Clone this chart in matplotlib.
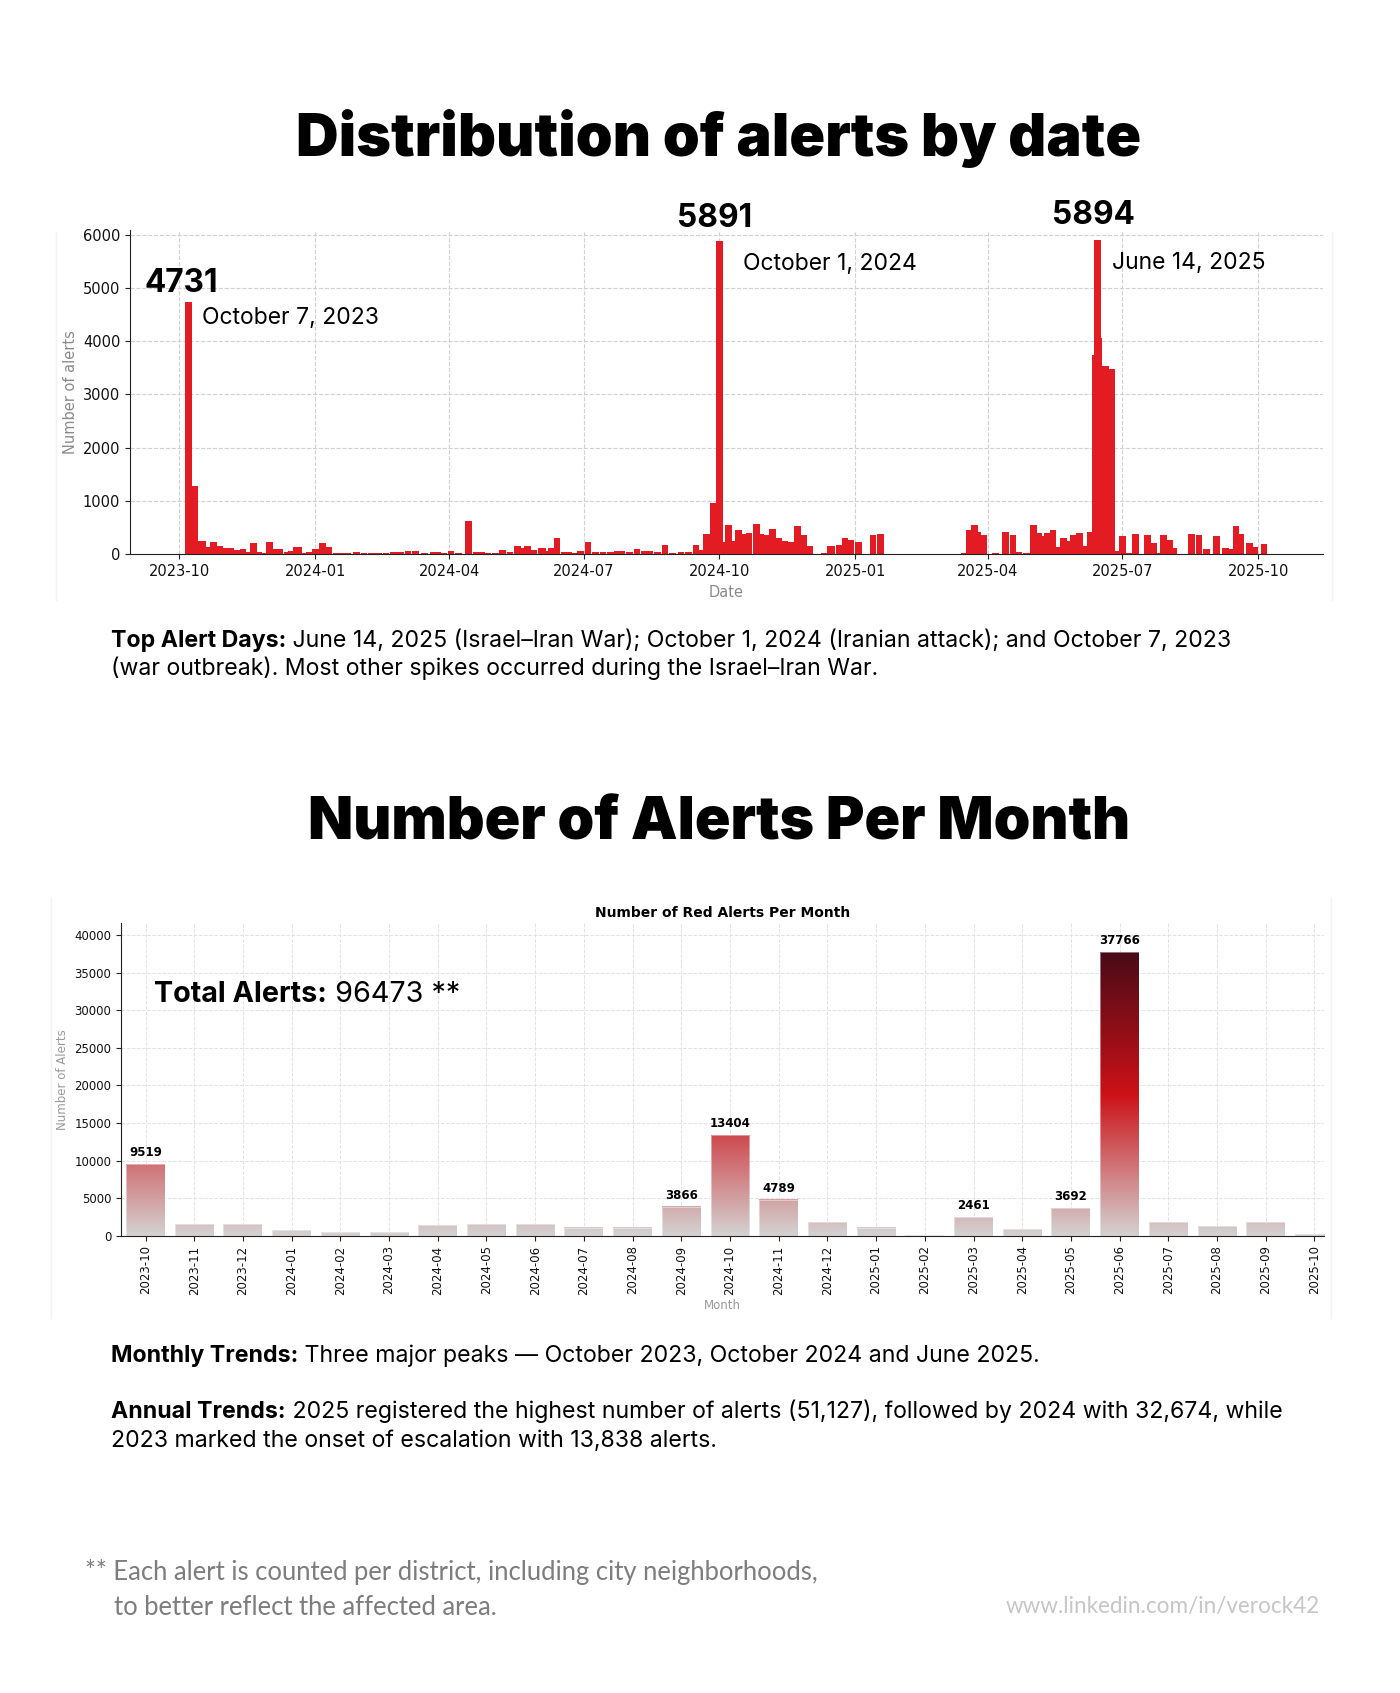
import numpy as np
import pandas as pd
import matplotlib
matplotlib.use("Agg")
import matplotlib.pyplot as plt
import matplotlib.dates as mdates
from matplotlib.colors import LinearSegmentedColormap, Normalize
from matplotlib.text import Annotation
from matplotlib.patches import Rectangle
from matplotlib.lines import Line2D

# ---------------- data: daily alerts ----------------
daily_dates = [
    '2023-10-07', '2023-10-11', '2023-10-16', '2023-10-17', '2023-10-20', '2023-10-24', '2023-10-28',
    '2023-11-01', '2023-11-05', '2023-11-09', '2023-11-13', '2023-11-16', '2023-11-20', '2023-11-24', '2023-11-27',
    '2023-12-01', '2023-12-06', '2023-12-08', '2023-12-13', '2023-12-16', '2023-12-19', '2023-12-21', '2023-12-25', '2023-12-28',
    '2024-01-01', '2024-01-06', '2024-01-10', '2024-01-15', '2024-01-19', '2024-01-23', '2024-01-29',
    '2024-02-03', '2024-02-08', '2024-02-13', '2024-02-18', '2024-02-23', '2024-02-28',
    '2024-03-04', '2024-03-09', '2024-03-15', '2024-03-21', '2024-03-24', '2024-03-28',
    '2024-04-02', '2024-04-07', '2024-04-14', '2024-04-19', '2024-04-23', '2024-04-27',
    '2024-05-02', '2024-05-07', '2024-05-12', '2024-05-17', '2024-05-20', '2024-05-24', '2024-05-28',
    '2024-06-02', '2024-06-03', '2024-06-07', '2024-06-09', '2024-06-13', '2024-06-18', '2024-06-21', '2024-06-24', '2024-06-29',
    '2024-07-04', '2024-07-09', '2024-07-14', '2024-07-19', '2024-07-24', '2024-07-27',
    '2024-08-01', '2024-08-06', '2024-08-11', '2024-08-15', '2024-08-20', '2024-08-25', '2024-08-30',
    '2024-09-05', '2024-09-10', '2024-09-15', '2024-09-18', '2024-09-22', '2024-09-23', '2024-09-27',
    '2024-10-01', '2024-10-04', '2024-10-07', '2024-10-11', '2024-10-14', '2024-10-18', '2024-10-21', '2024-10-26', '2024-10-29',
    '2024-11-02', '2024-11-06', '2024-11-10', '2024-11-14', '2024-11-18', '2024-11-23', '2024-11-27',
    '2024-12-01', '2024-12-11', '2024-12-15', '2024-12-16', '2024-12-21', '2024-12-25', '2024-12-29',
    '2025-01-03', '2025-01-13', '2025-01-18',
    '2025-03-16', '2025-03-19', '2025-03-23', '2025-03-25', '2025-03-29',
    '2025-04-06', '2025-04-13', '2025-04-18', '2025-04-22', '2025-04-27',
    '2025-05-02', '2025-05-05', '2025-05-08', '2025-05-11', '2025-05-15', '2025-05-18', '2025-05-22', '2025-05-25', '2025-05-29',
    '2025-06-02', '2025-06-06', '2025-06-09', '2025-06-13', '2025-06-14', '2025-06-15', '2025-06-16', '2025-06-20', '2025-06-24', '2025-06-28',
    '2025-07-01', '2025-07-06', '2025-07-10', '2025-07-18', '2025-07-22', '2025-07-25', '2025-07-29',
    '2025-08-02', '2025-08-05', '2025-08-17', '2025-08-22', '2025-08-27',
    '2025-09-03', '2025-09-09', '2025-09-12', '2025-09-16', '2025-09-19', '2025-09-25', '2025-09-29',
    '2025-10-05',
]
daily_counts = [
    4731, 1270, 237, 237, 125, 225, 156,
    106, 119, 75, 87, 44, 200, 44, 12,
    219, 87, 87, 31, 62, 131, 131, 12, 44,
    94, 200, 125, 15, 15, 15, 37,
    19, 19, 19, 19, 31, 31,
    50, 50, 19, 37, 37, 19,
    50, 25, 625, 44, 44, 12,
    12, 75, 37, 144, 112, 156, 75,
    112, 112, 62, 112, 294, 31, 31, 25, 56,
    225, 44, 44, 44, 50, 50,
    31, 87, 50, 50, 44, 162, 12,
    37, 37, 175, 75, 381, 381, 962,
    5891, 225, 537, 237, 444, 370, 394, 556, 369,
    350, 475, 300, 237, 225, 531, 356,
    144, 12, 156, 156, 175, 300, 262,
    225, 356, 381,
    10, 456, 537, 419, 362,
    19, 419, 362, 44, 25,
    537, 387, 344, 400, 456, 131, 306, 244, 362,
    394, 150, 406, 3737, 5894, 4069, 3531, 3531, 3487, 62,
    344, 25, 381, 362, 212, 12, 350,
    262, 106, 369, 350, 94,
    337, 106, 94, 519, 381, 200, 137,
    194,
]
peak_dates = ['2023-10-07', '2024-10-01', '2025-06-14']
peak_names = ['October 7, 2023', 'October 1, 2024', 'June 14, 2025']

# ---------------- data: monthly alerts ----------------
months = ['2023-10', '2023-11', '2023-12', '2024-01', '2024-02', '2024-03', '2024-04',
          '2024-05', '2024-06', '2024-07', '2024-08', '2024-09', '2024-10', '2024-11',
          '2024-12', '2025-01', '2025-02', '2025-03', '2025-04', '2025-05', '2025-06',
          '2025-07', '2025-08', '2025-09', '2025-10']
monthly_counts = [9519, 1530, 1530, 780, 500, 500, 1450,
                  1530, 1530, 1080, 1080, 3866, 13404, 4789,
                  1840, 1080, 90, 2461, 900, 3692, 37766,
                  1840, 1300, 1840, 220]
total_alerts = 96473
label_threshold = 2000

assert len(daily_dates) == len(daily_counts)
assert len(months) == len(monthly_counts)

# ---------------- figure ----------------
W, H = 1400, 1693
fig = plt.figure(figsize=(W / 100, H / 100), dpi=100)
fig.patch.set_facecolor('white')
renderer = fig.canvas.get_renderer()


def fxy(x, y):
    return x / W, 1 - y / H


def rich_line(x, y, parts, size, family, color='black', ha='left'):
    arts = []
    prev = None
    for txt, weight in parts:
        if prev is None:
            t = fig.text(*fxy(x, y), txt, fontsize=size, fontweight=weight, family=family,
                         color=color, ha=ha, va='baseline')
        else:
            t = Annotation(txt, xy=(1, 0), xycoords=prev, ha='left', va='bottom', fontsize=size,
                           fontweight=weight, family=family, color=color)
            fig.add_artist(t)
        arts.append(t)
        prev = t
    return arts


def fit(arts, target_w, n=3):
    for _ in range(n):
        x0 = arts[0].get_window_extent(renderer).x0
        x1 = arts[-1].get_window_extent(renderer).x1
        f = target_w / (x1 - x0)
        for a in arts:
            a.set_fontsize(a.get_fontsize() * f)
    return arts[0].get_fontsize()


# faint panel edges (the embedded chart images)
for (x, y0, y1) in [(56, 232, 600), (1332, 232, 600), (51, 898, 1318), (1331, 898, 1318)]:
    fig.add_artist(Line2D([x / W, x / W], [1 - y0 / H, 1 - y1 / H], color='#f2f2f2', lw=1))

# ---------------- titles ----------------
t1 = fig.text(*fxy(718.5, 156.4), 'Distribution of alerts by date', fontsize=44, fontweight='black',
              family='Inter', ha='center', va='baseline')
fit([t1], 845)
t2 = fig.text(*fxy(719, 840), 'Number of Alerts Per Month', fontsize=44, fontweight='black',
              family='Inter', ha='center', va='baseline')
fit([t2], 824)

# ---------------- top chart: alerts by date ----------------
ax1 = fig.add_axes([130 / W, 1 - 554 / H, 1193 / W, 324.5 / H])
dd = pd.to_datetime(daily_dates)
ax1.bar(dd, daily_counts, width=4.5, color='#e31b23', linewidth=0, zorder=2)
base = pd.Timestamp('2023-10-01')
ax1.set_xlim(base - pd.Timedelta(days=33.5), base + pd.Timedelta(days=775))
ax1.set_ylim(0, 6100)
ax1.set_yticks(range(0, 6001, 1000))
ax1.xaxis.set_major_locator(mdates.MonthLocator(bymonth=[1, 4, 7, 10]))
ax1.xaxis.set_major_formatter(mdates.DateFormatter('%Y-%m'))
ax1.grid(True, linestyle='--', color='#d0d0d0', linewidth=0.8)
ax1.set_axisbelow(True)
for s in ['top', 'right']:
    ax1.spines[s].set_visible(False)
for s in ['left', 'bottom']:
    ax1.spines[s].set_color('#222222')
ax1.tick_params(labelsize=10.5, colors='#222222', labelcolor='#111111')
ax1.set_xlabel('Date', fontsize=10.5, color='#8a8a8a')
ax1.set_ylabel('Number of alerts', fontsize=10.5, color='#8a8a8a')
ax1.xaxis.set_label_coords(0.5, -0.096)
ax1.yaxis.set_label_coords(-0.044, 0.5)

num_offsets = [(-7, 10), (-5, 14), (-4, 16)]
name_offsets = [(14, -22), (24, -29), (15, -29)]
for dt, name, no, lo in zip(peak_dates, peak_names, num_offsets, name_offsets):
    val = daily_counts[daily_dates.index(dt)]
    xd = mdates.date2num(pd.Timestamp(dt))
    ax1.annotate(str(val), xy=(xd, val), xytext=no, textcoords='offset pixels', ha='center',
                 va='baseline', fontsize=22.8, fontweight='bold', family='Inter', annotation_clip=False)
    ax1.annotate(name, xy=(xd, val), xytext=lo, textcoords='offset pixels', ha='left',
                 va='baseline', fontsize=16.5, family='Inter', annotation_clip=False)

# ---------------- paragraph 1 ----------------
p1 = rich_line(111, 646.7, [('Top Alert Days:', 'bold'),
                            (' June 14, 2025 (Israel–Iran War); October 1, 2024 (Iranian attack); and October 7, 2023', 'normal')],
               14, 'Inter')
psize = fit(p1, 1120)
rich_line(111, 675, [('(war outbreak). Most other spikes occurred during the Israel–Iran War.', 'normal')], psize, 'Inter')

# ---------------- bottom chart: monthly ----------------
ax2 = fig.add_axes([121.2 / W, 1 - 1235.7 / H, 1203 / W, 312.4 / H])
xpos = np.arange(len(months))
bars = ax2.bar(xpos, monthly_counts, width=0.8, color='none', edgecolor='none', zorder=2)
vmax = max(monthly_counts)
cmap = LinearSegmentedColormap.from_list('alerts', ['#d4d2d2', '#cc1118', '#480b17'])
norm = Normalize(0, vmax)
grad = np.linspace(0, 1, 512).reshape(-1, 1)
for b, v in zip(bars, monthly_counts):
    x0, w = b.get_x(), b.get_width()
    ax2.imshow(grad * v, cmap=cmap, norm=norm, extent=[x0, x0 + w, 0, v], origin='lower',
               aspect='auto', zorder=2, interpolation='bilinear')
    ax2.add_patch(Rectangle((x0, 0), w, v, fill=False, edgecolor='white', lw=0.6, alpha=0.5, zorder=3))
for x, v in zip(xpos, monthly_counts):
    if v > label_threshold:
        ax2.annotate(f'{v}', xy=(x, v), xytext=(0, 8), textcoords='offset pixels', ha='center',
                     va='baseline', fontsize=8.5, fontweight='bold')
ax2.set_xlim(-0.5, 24.2)
ax2.set_ylim(0, vmax * 1.1)
ax2.set_aspect('auto')
ax2.set_xticks(xpos)
ax2.set_xticklabels(months, rotation=90)
ax2.set_yticks(range(0, 40001, 5000))
ax2.grid(True, linestyle='--', color='#e2e2e2', linewidth=0.7)
ax2.set_axisbelow(True)
for s in ['top', 'right']:
    ax2.spines[s].set_visible(False)
for s in ['left', 'bottom']:
    ax2.spines[s].set_color('#222222')
ax2.tick_params(labelsize=8.5, colors='#222222', labelcolor='#111111')
ax2.set_title('Number of Red Alerts Per Month', fontsize=10, fontweight='bold', pad=4.5)
ax2.set_xlabel('Month', fontsize=8.5, color='#999999')
ax2.set_ylabel('Number of Alerts', fontsize=8.5, color='#999999')
ax2.xaxis.set_label_coords(0.5, -0.2026)
ax2.yaxis.set_label_coords(-0.043, 0.5)

tot = rich_line(154.5, 1001.7, [('Total Alerts:', 'bold'), (f' {total_alerts} **', 'normal')], 20.5, 'Inter')
fit(tot, 306)

# ---------------- paragraphs 2 & 3 ----------------
rich_line(111, 1361.7, [('Monthly Trends:', 'bold'),
                        (' Three major peaks — October 2023, October 2024 and June 2025.', 'normal')], psize, 'Inter')
rich_line(111, 1418.3, [('Annual Trends:', 'bold'),
                        (' 2025 registered the highest number of alerts (51,127), followed by 2024 with 32,674, while', 'normal')],
          psize, 'Inter')
rich_line(111, 1446.7, [('2023 marked the onset of escalation with 13,838 alerts.', 'normal')], psize, 'Inter')

# ---------------- footnote ----------------
fn = rich_line(85, 1580, [('** Each alert is counted per district, including city neighborhoods,', 'normal')], 19, 'Lato', color='#7d7d7d')
fsize = fit(fn, 732)
rich_line(114, 1615, [('to better reflect the affected area.', 'normal')], fsize, 'Lato', color='#7d7d7d')
ln = fig.text(*fxy(1320, 1613), 'www.linkedin.com/in/verock42', fontsize=15, family='Lato', color='#c6c6c6',
              ha='right', va='baseline')
fit([ln], 315)

fig.savefig('out.png', dpi=100, facecolor='white')
